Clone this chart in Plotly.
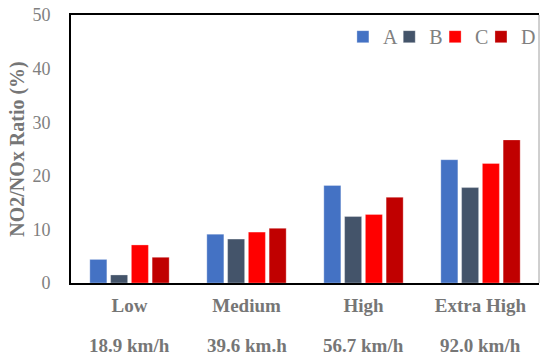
import plotly.graph_objects as go

categories = ["Low", "Medium", "High", "Extra High"]
speeds = ["18.9 km/h", "39.6 km.h", "56.7 km/h", "92.0 km/h"]
series_names = ["A", "B", "C", "D"]
values_A = [4.4, 9.1, 18.2, 23.0]
values_B = [1.5, 8.2, 12.4, 17.8]
values_C = [7.1, 9.5, 12.8, 22.3]
values_D = [4.8, 10.2, 16.0, 26.7]
colors = ["#4472C4", "#44546A", "#FF0000", "#C00000"]
y_ticks = [0, 10, 20, 30, 40, 50]

font_family = "Liberation Serif, Times New Roman, serif"
gray = "#808080"
dark_gray = "#767676"

legend_ids = ["legend", "legend2", "legend3", "legend4"]
legend_x = [0.581, 0.680, 0.778, 0.876]

fig = go.Figure()
for name, vals, col, lid in zip(series_names, [values_A, values_B, values_C, values_D], colors, legend_ids):
    fig.add_trace(go.Bar(
        name=name, x=categories, y=vals, legend=lid,
        marker=dict(color=col, line=dict(color="rgba(255,255,255,0.6)", width=0.5)),
    ))

ticktext = [f"<b>{c}</b>" for c in categories]

annotations = [
    dict(x=c, y=0, xref="x", yref="paper", text=f"<b>{s}</b>", showarrow=False,
         yanchor="middle", yshift=-62, font=dict(size=19, color=dark_gray, family=font_family))
    for c, s in zip(categories, speeds)
]

legend_style = dict(
    orientation="h", xanchor="left", y=0.992, yanchor="top",
    font=dict(size=20, color=gray), bgcolor="rgba(0,0,0,0)", itemwidth=30,
)
legends = {lid: dict(x=lx, **legend_style) for lid, lx in zip(legend_ids, legend_x)}

fig.update_layout(
    width=542, height=355,
    margin=dict(l=71, r=3, t=15, b=72, autoexpand=False),
    paper_bgcolor="white", plot_bgcolor="white",
    barmode="group", bargap=0.29, bargroupgap=0.18,
    font=dict(family=font_family, color=gray, size=17),
    showlegend=True,
    xaxis=dict(
        tickmode="array", tickvals=categories, ticktext=ticktext,
        showline=True, linecolor="black", linewidth=2, mirror=True,
        ticks="", showgrid=False, tickfont=dict(size=19, color=dark_gray),
        ticklabelstandoff=4, automargin=False,
    ),
    yaxis=dict(
        range=[0, 50], tickvals=y_ticks, showline=True, linecolor="black", linewidth=2,
        ticks="", showgrid=False, zeroline=False,
        tickfont=dict(size=18, color=gray), ticklabelstandoff=15, automargin=False,
        title=dict(text="<b>NO2/NOx Ratio (%)</b>", font=dict(size=20, color=dark_gray), standoff=2),
    ),
    annotations=annotations,
    shapes=[dict(type="line", xref="paper", yref="paper", x0=1, x1=1, y0=0, y1=1,
                 line=dict(color="#a0a0a0", width=1))],
    **legends,
)

fig.write_html("out.html", post_script="document.body.style.margin='0';",
               config={"displayModeBar": False})
